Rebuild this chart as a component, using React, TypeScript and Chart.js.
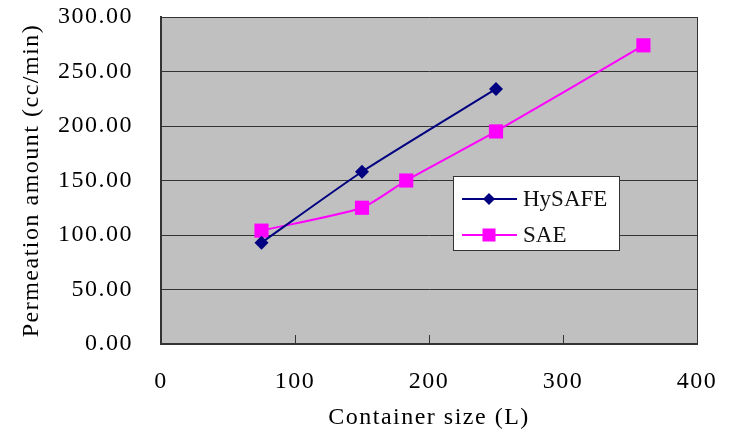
import React, { useEffect, useRef } from "react";
import { Chart, registerables } from "chart.js";

Chart.register(...registerables);

const seriesNames = ["HySAFE", "SAE"];
const seriesColors = ["#000080", "#FF00FF"];
const hysafeX = [75, 150, 250];
const hysafeY = [93, 158, 234];
const saeX = [75, 150, 183, 250, 360];
const saeY = [104, 125, 150, 195, 274];
const xTickValues = [0, 100, 200, 300, 400];
const yTickValues = [0, 50, 100, 150, 200, 250, 300];
const xTitle = "Container size (L)";
const yTitle = "Permeation amount (cc/min)";

const FONT = "'Liberation Serif', 'DejaVu Serif', serif";
const SPACING = "1.5px";

const plotPlugin = {
  id: "plotDecor",
  beforeLayout(chart: any) {
    chart.ctx.letterSpacing = SPACING;
  },
  resize(chart: any) {
    chart.ctx.letterSpacing = SPACING;
  },
  beforeDraw(chart: any) {
    const ctx = chart.ctx;
    ctx.letterSpacing = SPACING;
    const a = chart.chartArea;
    ctx.save();
    ctx.fillStyle = "#C0C0C0";
    ctx.fillRect(a.left, a.top, a.right - a.left, a.bottom - a.top);
    ctx.restore();
  },
  afterDraw(chart: any) {
    const ctx = chart.ctx;
    const a = chart.chartArea;
    const xs = chart.scales.x;
    ctx.save();
    ctx.strokeStyle = "#333";
    ctx.lineWidth = 1;
    xTickValues.forEach((v) => {
      const px = Math.round(xs.getPixelForValue(v)) + 0.5;
      ctx.beginPath();
      ctx.moveTo(px, a.bottom);
      ctx.lineTo(px, a.bottom - 9);
      ctx.stroke();
    });
    // legend
    const lx = a.left + 292;
    const ly = a.top + 159;
    const lw = 166;
    const lh = 74;
    ctx.fillStyle = "#FFFFFF";
    ctx.fillRect(lx, ly, lw, lh);
    ctx.strokeStyle = "#333";
    ctx.lineWidth = 1;
    ctx.strokeRect(lx + 0.5, ly + 0.5, lw, lh);
    chart.data.datasets.forEach((ds: any, i: number) => {
      const y = ly + 23 + i * 36;
      ctx.strokeStyle = ds.borderColor;
      ctx.lineWidth = 2;
      ctx.beginPath();
      ctx.moveTo(lx + 9, y);
      ctx.lineTo(lx + 64, y);
      ctx.stroke();
      ctx.fillStyle = ds.backgroundColor;
      const mx = lx + 36;
      if (ds.pointStyle === "rect") {
        ctx.fillRect(mx - 6.5, y - 6.5, 13, 13);
      } else {
        ctx.beginPath();
        ctx.moveTo(mx, y - 6);
        ctx.lineTo(mx + 6, y);
        ctx.lineTo(mx, y + 6);
        ctx.lineTo(mx - 6, y);
        ctx.closePath();
        ctx.fill();
      }
      ctx.fillStyle = "#111";
      ctx.font = `23px ${FONT}`;
      ctx.textBaseline = "middle";
      ctx.textAlign = "left";
      ctx.letterSpacing = "0px";
      ctx.fillText(ds.label, lx + 70, y + 1);
      ctx.letterSpacing = SPACING;
    });
    ctx.restore();
  },
};

export default function App() {
  const ref = useRef<HTMLCanvasElement | null>(null);
  useEffect(() => {
    if (!ref.current) return;
    const chart = new Chart(ref.current, {
      type: "line",
      data: {
        datasets: [
          {
            label: seriesNames[0],
            data: hysafeX.map((x, i) => ({ x, y: hysafeY[i] })),
            borderColor: seriesColors[0],
            backgroundColor: seriesColors[0],
            pointStyle: "rectRot",
            pointRadius: 7,
            pointBorderWidth: 0,
            borderWidth: 2,
            tension: 0.2,
          },
          {
            label: seriesNames[1],
            data: saeX.map((x, i) => ({ x, y: saeY[i] })),
            borderColor: seriesColors[1],
            backgroundColor: seriesColors[1],
            pointStyle: "rect",
            pointRadius: 10,
            pointBorderWidth: 0,
            borderWidth: 2,
            tension: 0.2,
          },
        ],
      } as any,
      options: {
        animation: false,
        responsive: true,
        maintainAspectRatio: false,
        layout: { padding: { left: 0, right: 32, top: 17, bottom: 0 } },
        plugins: { legend: { display: false }, tooltip: { enabled: false } },
        scales: {
          x: {
            type: "linear",
            min: xTickValues[0],
            max: xTickValues[xTickValues.length - 1],
            afterBuildTicks: (s: any) => {
              s.ticks = xTickValues.map((v) => ({ value: v }));
            },
            ticks: {
              color: "#000",
              font: { family: FONT, size: 24 },
              padding: 23,
              maxRotation: 0,
              autoSkip: false,
            },
            grid: {
              drawTicks: false,
              color: (c: any) =>
                c.tick && c.tick.value === 400 ? "#333" : "rgba(0,0,0,0)",
              lineWidth: 1,
            },
            border: { color: "#333", width: 2 },
            title: {
              display: true,
              text: xTitle,
              color: "#000",
              font: { family: FONT, size: 24 },
              padding: { top: 0, bottom: 2 },
            },
            afterFit: (s: any) => {
              s.height = 90;
              s.paddingLeft = 0;
              s.paddingRight = 0;
              s.paddingTop = 0;
              s.paddingBottom = 0;
            },
          },
          y: {
            type: "linear",
            min: yTickValues[0],
            max: yTickValues[yTickValues.length - 1],
            afterBuildTicks: (s: any) => {
              s.ticks = yTickValues.map((v) => ({ value: v }));
            },
            ticks: {
              color: "#000",
              font: { family: FONT, size: 24 },
              padding: 28,
              callback: (v: any) => Number(v).toFixed(2),
            },
            grid: { drawTicks: false, color: "#333", lineWidth: 1 },
            border: { color: "#333", width: 2 },
            title: {
              display: true,
              text: yTitle,
              color: "#000",
              font: { family: FONT, size: 24 },
              padding: { top: 17, bottom: 0 },
            },
            afterFit: (s: any) => {
              s.width = 161;
              s.paddingLeft = 0;
              s.paddingRight = 0;
              s.paddingTop = 0;
              s.paddingBottom = 0;
            },
          },
        },
      } as any,
      plugins: [plotPlugin],
    });
    return () => chart.destroy();
  }, []);
  return (
    <div
      style={{
        position: "fixed",
        left: 0,
        top: 0,
        width: 729,
        height: 434,
        background: "#fff",
      }}
    >
      <canvas ref={ref} />
    </div>
  );
}
